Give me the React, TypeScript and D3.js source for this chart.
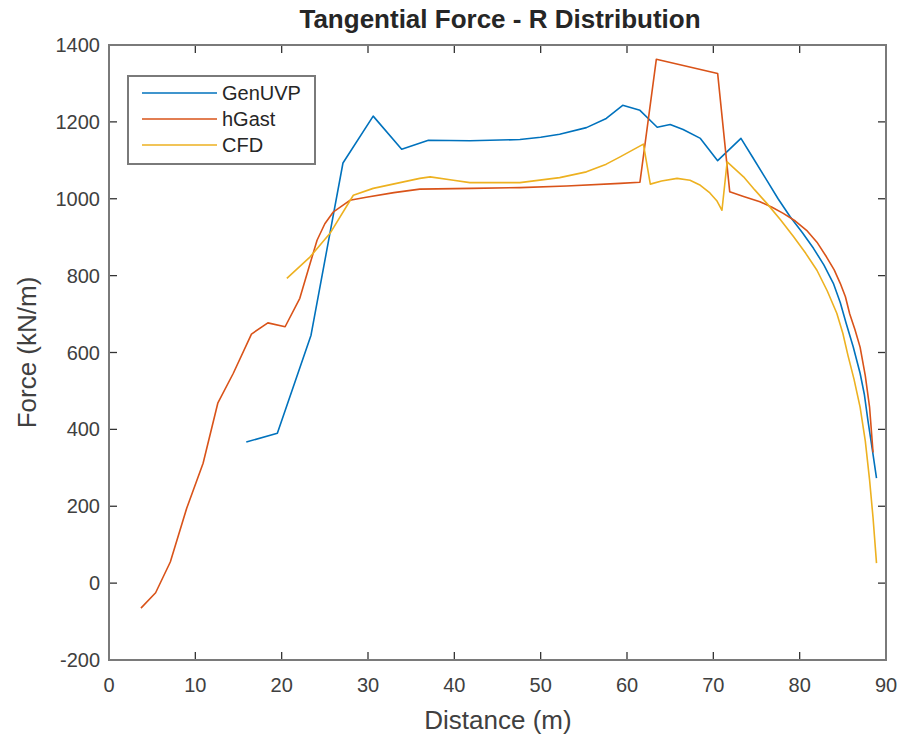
import React from "react";
import * as d3 from "d3";

const genuvpX = [15.9, 19.5, 23.4, 27.1, 30.6, 33.9, 37, 41.8, 47.6, 50, 52.2, 55.3, 57.6, 59.5, 61.5, 63.5, 65, 66.5, 68.5, 70.5, 73.2, 74.5, 76.2, 77.5, 78.9, 80.3, 81.6, 82.8, 83.9, 84.7, 85.4, 86.2, 87, 87.5, 87.9, 88.4, 88.9];
const genuvpY = [367, 390, 645, 1093, 1215, 1129, 1152, 1151, 1154, 1160, 1168, 1185, 1209, 1243, 1230, 1186, 1193, 1180, 1157, 1099, 1157, 1110, 1048, 1000, 953, 912, 871, 828, 780, 730, 675, 615, 546, 490, 424, 350, 273];

const hgastX = [3.7, 5.4, 7.1, 9, 10.9, 12.6, 14.4, 16.5, 18.4, 20.4, 22.1, 23.3, 24.1, 25, 26, 27.9, 29.8, 33, 36, 42, 47.6, 53, 59.2, 61.5, 63.4, 70.5, 71.9, 73.5, 75.4, 76.8, 78.1, 79.5, 80.8, 82, 83.1, 84, 84.7, 85.3, 85.8, 86.4, 87, 87.6, 88.1, 88.5];
const hgastY = [-65, -25, 55, 195, 312, 468, 546, 648, 677, 667, 741, 832, 892, 935, 966, 996, 1004, 1016, 1025, 1027, 1029, 1033, 1040, 1043, 1363, 1326, 1018, 1006, 992, 978, 962, 942, 918, 887, 849, 815, 780, 745, 700, 660, 614, 540, 457, 340];

const cfdX = [20.6, 23.3, 25.6, 28.3, 30.6, 33.3, 36, 37.2, 39.9, 41.8, 47.6, 52.2, 55.3, 57.6, 59.2, 61.9, 62.7, 64, 65.8, 67.3, 68.5, 69.6, 70.4, 71, 71.6, 73.5, 74.8, 76.2, 77.8, 79.3, 80.7, 82, 83.2, 84.3, 85, 85.6, 86.3, 87, 87.6, 88.1, 88.5, 88.9];
const cfdY = [793, 849, 910, 1009, 1027, 1040, 1053, 1057, 1048, 1042, 1042, 1055, 1070, 1090, 1109, 1142, 1038, 1046, 1053, 1048, 1035, 1015, 995, 970, 1096, 1057, 1023, 988, 945, 901, 858, 814, 760, 702, 650, 592, 530, 458, 370, 268, 170, 52];

const xTicks = [0, 10, 20, 30, 40, 50, 60, 70, 80, 90];
const yTicks = [-200, 0, 200, 400, 600, 800, 1000, 1200, 1400];

const seriesNames = ["GenUVP", "hGast", "CFD"];
const seriesColors = ["#0072BD", "#D95319", "#EDB120"];

const W = 904, H = 738;
const L = 109, R = 886, T = 45, B = 660;

export default function App() {
  const x = d3.scaleLinear().domain([0, 90]).range([L, R]);
  const y = d3.scaleLinear().domain([-200, 1400]).range([B, T]);
  const line = d3.line<[number, number]>().x(d => x(d[0])).y(d => y(d[1]));
  const series = [
    genuvpX.map((v, i) => [v, genuvpY[i]] as [number, number]),
    hgastX.map((v, i) => [v, hgastY[i]] as [number, number]),
    cfdX.map((v, i) => [v, cfdY[i]] as [number, number]),
  ];
  const font = "Liberation Sans, Arial, sans-serif";
  const tickLen = 8;
  const legX = 128, legY = 76, legW = 187, legH = 88;
  return (
    <svg width={W} height={H} style={{ position: "absolute", left: 0, top: 0, background: "#fff" }} fontFamily={font}>
      <rect x={0} y={0} width={W} height={H} fill="#fff" />
      <g>
        {series.map((s, i) => (
          <path key={i} d={line(s) || ""} fill="none" stroke={seriesColors[i]} strokeWidth={1.6} strokeLinejoin="round" />
        ))}
      </g>
      {xTicks.map(t => (
        <g key={"x" + t}>
          <line x1={x(t)} x2={x(t)} y1={B} y2={B - tickLen} stroke="#333" strokeWidth={1.3} />
          <line x1={x(t)} x2={x(t)} y1={T} y2={T + tickLen} stroke="#333" strokeWidth={1.3} />
          <text x={x(t)} y={692} textAnchor="middle" fontSize={20} fill="#404040">{t}</text>
        </g>
      ))}
      {yTicks.map(t => (
        <g key={"y" + t}>
          <line x1={L} x2={L + tickLen} y1={y(t)} y2={y(t)} stroke="#333" strokeWidth={1.3} />
          <line x1={R} x2={R - tickLen} y1={y(t)} y2={y(t)} stroke="#333" strokeWidth={1.3} />
          <text x={100} y={y(t) + 7} textAnchor="end" fontSize={20} fill="#404040">{t}</text>
        </g>
      ))}
      <rect x={L} y={T} width={R - L} height={B - T} fill="none" stroke="#7a7a7a" strokeWidth={2} />
      <rect x={legX} y={legY} width={legW} height={legH} fill="#fff" stroke="#7a7a7a" strokeWidth={2} />
      {seriesNames.map((n, i) => (
        <g key={n}>
          <line x1={142} x2={217} y1={93 + i * 26} y2={93 + i * 26} stroke={seriesColors[i]} strokeWidth={1.6} />
          <text x={222} y={93 + i * 26 + 7} fontSize={20} fill="#262626">{n}</text>
        </g>
      ))}
      <text x={500} y={28} textAnchor="middle" fontSize={26} fontWeight="bold" fill="#262626">Tangential Force - R Distribution</text>
      <text x={498} y={729} textAnchor="middle" fontSize={26} fill="#404040">Distance (m)</text>
      <text transform={`translate(36,${(T + B) / 2}) rotate(-90)`} textAnchor="middle" fontSize={26} fill="#404040">Force (kN/m)</text>
    </svg>
  );
}
